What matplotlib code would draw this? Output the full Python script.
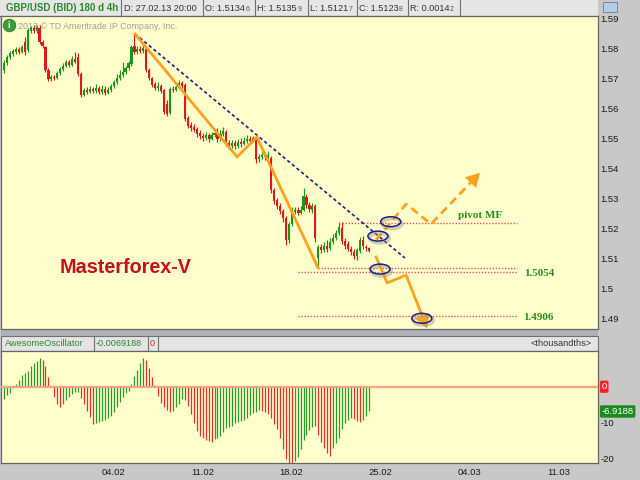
import numpy as np
import matplotlib
matplotlib.use("Agg")
import matplotlib.pyplot as plt
from matplotlib.patches import Rectangle, Ellipse
from matplotlib.transforms import blended_transform_factory

plt.rcParams["font.family"] = ["Liberation Sans", "DejaVu Sans"]

# ---- GBP/USD 4h candles (bar index 0..123) ----
opens = [1.5728, 1.5751, 1.5771, 1.5781, 1.5788, 1.5798, 1.5788, 1.5821, 1.5794, 1.5858,
         1.5868, 1.5858, 1.5868, 1.5821, 1.5804, 1.5728, 1.5698, 1.5704, 1.5701, 1.5718,
         1.5731, 1.5741, 1.5754, 1.5744, 1.5764, 1.5771, 1.5714, 1.5644, 1.5661, 1.5654,
         1.5664, 1.5658, 1.5668, 1.5654, 1.5664, 1.5651, 1.5661, 1.5674, 1.5688, 1.5701,
         1.5711, 1.5721, 1.5734, 1.5748, 1.5808, 1.5788, 1.5798, 1.5791, 1.5798, 1.5728,
         1.5701, 1.5681, 1.5668, 1.5674, 1.5661, 1.5614, 1.5584, 1.5664, 1.5661, 1.5671,
         1.5684, 1.5678, 1.5568, 1.5544, 1.5538, 1.5531, 1.5518, 1.5508, 1.5501, 1.5511,
         1.5498, 1.5511, 1.5518, 1.5501, 1.5514, 1.5521, 1.5484, 1.5474, 1.5484, 1.5474,
         1.5488, 1.5481, 1.5491, 1.5498, 1.5491, 1.5498, 1.5431, 1.5438, 1.5444, 1.5438,
         1.5434, 1.5328, 1.5294, 1.5274, 1.5258, 1.5234, 1.5161, 1.5214, 1.5254, 1.5261,
         1.5251, 1.5261, 1.5304, 1.5278, 1.5261, 1.5274, 1.5101, 1.5138, 1.5128, 1.5141,
         1.5134, 1.5154, 1.5168, 1.5184, 1.5201, 1.5158, 1.5148, 1.5131, 1.5121, 1.5108,
         1.5124, 1.5161, 1.5138, 1.5135]
highs = [1.5761, 1.5778, 1.5791, 1.5798, 1.5804, 1.5804, 1.5811, 1.5838, 1.5868, 1.5874,
         1.5878, 1.5878, 1.5878, 1.5828, 1.5808, 1.5734, 1.5711, 1.5711, 1.5724, 1.5738,
         1.5751, 1.5761, 1.5761, 1.5774, 1.5788, 1.5784, 1.5721, 1.5668, 1.5671, 1.5674,
         1.5671, 1.5681, 1.5674, 1.5678, 1.5674, 1.5671, 1.5681, 1.5694, 1.5714, 1.5728,
         1.5754, 1.5741, 1.5758, 1.5811, 1.5848, 1.5808, 1.5808, 1.5811, 1.5804, 1.5734,
         1.5704, 1.5688, 1.5688, 1.5681, 1.5664, 1.5628, 1.5671, 1.5674, 1.5681, 1.5694,
         1.5691, 1.5684, 1.5574, 1.5554, 1.5548, 1.5538, 1.5528, 1.5518, 1.5521, 1.5518,
         1.5521, 1.5531, 1.5534, 1.5528, 1.5538, 1.5528, 1.5494, 1.5494, 1.5494, 1.5498,
         1.5501, 1.5504, 1.5511, 1.5508, 1.5508, 1.5508, 1.5448, 1.5454, 1.5454, 1.5458,
         1.5441, 1.5334, 1.5301, 1.5284, 1.5264, 1.5241, 1.5221, 1.5271, 1.5271, 1.5271,
         1.5274, 1.5334, 1.5314, 1.5288, 1.5284, 1.5281, 1.5144, 1.5148, 1.5154, 1.5161,
         1.5168, 1.5181, 1.5194, 1.5221, 1.5221, 1.5168, 1.5158, 1.5141, 1.5131, 1.5134,
         1.5171, 1.5174, 1.5144, 1.5136]
lows = [1.5718, 1.5744, 1.5764, 1.5774, 1.5781, 1.5781, 1.5784, 1.5778, 1.5788, 1.5851,
        1.5851, 1.5851, 1.5814, 1.5801, 1.5721, 1.5691, 1.5691, 1.5694, 1.5698, 1.5711,
        1.5724, 1.5738, 1.5738, 1.5741, 1.5751, 1.5708, 1.5638, 1.5641, 1.5648, 1.5651,
        1.5651, 1.5651, 1.5648, 1.5648, 1.5644, 1.5648, 1.5654, 1.5668, 1.5681, 1.5694,
        1.5704, 1.5714, 1.5728, 1.5741, 1.5781, 1.5781, 1.5784, 1.5784, 1.5721, 1.5694,
        1.5671, 1.5661, 1.5658, 1.5651, 1.5581, 1.5574, 1.5581, 1.5654, 1.5658, 1.5668,
        1.5668, 1.5558, 1.5534, 1.5524, 1.5521, 1.5504, 1.5498, 1.5491, 1.5494, 1.5488,
        1.5494, 1.5504, 1.5488, 1.5491, 1.5508, 1.5474, 1.5464, 1.5468, 1.5464, 1.5468,
        1.5471, 1.5478, 1.5484, 1.5481, 1.5488, 1.5418, 1.5421, 1.5431, 1.5428, 1.5431,
        1.5318, 1.5281, 1.5264, 1.5248, 1.5221, 1.5144, 1.5151, 1.5208, 1.5248, 1.5244,
        1.5248, 1.5258, 1.5268, 1.5254, 1.5251, 1.5154, 1.5071, 1.5118, 1.5121, 1.5121,
        1.5128, 1.5148, 1.5161, 1.5178, 1.5148, 1.5131, 1.5124, 1.5111, 1.5098, 1.5094,
        1.5118, 1.5131, 1.5124, 1.5122]
closes = [1.5751, 1.5771, 1.5784, 1.5791, 1.5798, 1.5788, 1.5804, 1.5788, 1.5861, 1.5868,
          1.5858, 1.5871, 1.5821, 1.5808, 1.5728, 1.5698, 1.5704, 1.5701, 1.5718, 1.5731,
          1.5741, 1.5754, 1.5744, 1.5764, 1.5754, 1.5714, 1.5644, 1.5661, 1.5654, 1.5664,
          1.5658, 1.5668, 1.5654, 1.5664, 1.5651, 1.5661, 1.5674, 1.5688, 1.5701, 1.5711,
          1.5721, 1.5734, 1.5751, 1.5804, 1.5788, 1.5798, 1.5791, 1.5801, 1.5728, 1.5701,
          1.5678, 1.5668, 1.5674, 1.5658, 1.5588, 1.5581, 1.5664, 1.5661, 1.5671, 1.5684,
          1.5674, 1.5564, 1.5541, 1.5534, 1.5528, 1.5514, 1.5508, 1.5501, 1.5511, 1.5498,
          1.5511, 1.5518, 1.5498, 1.5514, 1.5524, 1.5484, 1.5474, 1.5484, 1.5474, 1.5488,
          1.5481, 1.5491, 1.5498, 1.5491, 1.5501, 1.5431, 1.5438, 1.5444, 1.5438, 1.5444,
          1.5328, 1.5291, 1.5274, 1.5258, 1.5234, 1.5161, 1.5214, 1.5254, 1.5261, 1.5251,
          1.5261, 1.5308, 1.5278, 1.5264, 1.5274, 1.5168, 1.5138, 1.5128, 1.5141, 1.5131,
          1.5154, 1.5168, 1.5184, 1.5204, 1.5158, 1.5141, 1.5131, 1.5121, 1.5108, 1.5128,
          1.5161, 1.5141, 1.5134, 1.5124]

# ---- Awesome Oscillator, thousandths ----
ao = [-3.3, -2.3, -1.7, -0.5, 0.8, 2.0, 3.3, 3.9, 4.5, 5.8,
      6.5, 7.2, 7.9, 7.4, 5.8, 2.8, -0.2, -2.8, -4.8, -5.6,
      -4.8, -3.7, -2.8, -2.0, -1.5, -1.4, -3.1, -4.8, -6.7, -8.6,
      -10.3, -10.2, -9.8, -9.5, -9.3, -8.8, -8.2, -7.0, -5.6, -4.4,
      -3.0, -1.7, -1.1, 0.7, 3.1, 4.8, 6.5, 7.9, 7.4, 5.1,
      2.8, 0.5, -2.5, -4.5, -5.6, -6.5, -7.0, -6.7, -5.8, -4.7,
      -3.5, -3.7, -5.4, -7.6, -10.1, -12.4, -13.8, -14.4, -14.9, -15.2,
      -15.4, -14.5, -14.2, -13.8, -12.6, -11.6, -11.2, -10.9, -10.2, -9.9,
      -9.6, -9.2, -8.7, -8.0, -7.4, -7.0, -6.5, -6.8, -7.1, -7.6,
      -8.8, -10.4, -11.9, -14.4, -17.4, -20.1, -21.2, -21.4, -20.7, -19.6,
      -17.4, -14.9, -13.5, -12.1, -11.2, -11.1, -13.5, -15.4, -17.0, -18.6,
      -19.4, -17.2, -15.6, -14.4, -11.9, -10.1, -9.3, -8.8, -9.1, -9.5,
      -9.8, -9.3, -8.2, -6.9188]

date_ticks = [37, 67, 97, 127, 157, 187]
date_labels = ["04.02", "11.02", "18.02", "25.02", "04.03", "11.03"]
price_ticks = [1.49, 1.50, 1.51, 1.52, 1.53, 1.54, 1.55, 1.56, 1.57, 1.58, 1.59]

# ---- analysis drawn on the chart (bar index, price) ----
wave_bar = [44.2, 78.6, 85.3, 105.9]
wave_price = [1.5848, 1.5438, 1.5504, 1.5068]
trend_bar = [44.2, 135.2]
trend_price = [1.5848, 1.5101]
bull_bar = [125.5, 135.6, 144.0, 160.5]
bull_price = [1.5161, 1.5281, 1.5214, 1.5385]
bear_bar = [125.5, 129.2, 135.6, 142.7]
bear_price = [1.5104, 1.5018, 1.5044, 1.4866]
level_price = [1.5218, 1.5069, 1.5054, 1.4906]
level_from = [114, 106, 99, 99]
level_to = 173
circled_bar = [130.4, 126.1, 126.8, 140.9]
circled_price = [1.5222, 1.5174, 1.5064, 1.4900]

# ---- colours ----
BG = "#ffffcc"
CHROME = "#c8c8c8"
HEAD = "#e6e6e6"
EDGE = "#666666"
C_UP = "#1a961a"
C_DN = "#dc1818"
AO_UP = "#2a9a2a"
AO_DN = "#e43030"
ORANGE = "#ffa01e"
NAVY = "#1c1c8c"
LEVEL = "#e05656"
LABEL_GREEN = "#2e8b1e"

W, H = 640, 480


def box(x0, y0, x1, y1):
    return [x0 / W, 1 - y1 / H, (x1 - x0) / W, (y1 - y0) / H]


fig = plt.figure(figsize=(6.4, 4.8), dpi=100)
fig.patch.set_facecolor(CHROME)

chrome = fig.add_axes([0, 0, 1, 1], zorder=0)
chrome.set_xlim(0, W)
chrome.set_ylim(H, 0)
chrome.axis("off")

ax = fig.add_axes(box(1, 16, 598, 329), zorder=2)
ax_ao = fig.add_axes(box(1, 351, 598, 463), zorder=2, sharex=ax)

x = np.arange(len(closes))
o = np.array(opens)
c = np.array(closes)
hi = np.array(highs)
lo = np.array(lows)

# ---------- price panel ----------
ax.set_facecolor(BG)
ax.set_xlim(-1.0, 200.3)
ax.set_ylim(1.48643, 1.59077)
cols = np.where(c >= o, C_UP, C_DN)
ax.vlines(x, lo, hi, colors=cols, lw=0.85, zorder=3)
body_lo = np.minimum(o, c)
body_h = np.maximum(np.abs(c - o), 0.00014)
ax.bar(x, body_h, bottom=body_lo, width=0.72, color=cols, linewidth=0, zorder=3)

ax.yaxis.tick_right()
ax.set_yticks(price_ticks)
ax.set_yticklabels([f"{v:.2f}".rstrip("0") for v in price_ticks])
ax.tick_params(axis="y", length=0, pad=2, labelsize=6.8, labelcolor="#1a1a1a")
ax.tick_params(axis="x", length=0, labelbottom=False)
for s in ax.spines.values():
    s.set_color(EDGE)
    s.set_linewidth(0.9)

# horizontal levels
for lvl, start in zip(level_price, level_from):
    ax.plot([start, level_to], [lvl, lvl], color=LEVEL, lw=1.0,
            linestyle=(0, (1.0, 1.2)), zorder=4)

# trend line
ax.plot(trend_bar, trend_price, color=NAVY, lw=1.2, linestyle=(0, (2.0, 1.6)), zorder=5)

# completed wave
ax.plot(wave_bar, wave_price, color=ORANGE, lw=2.0, solid_joinstyle="miter", zorder=6)


def arrow_path(bars, prices, style):
    bx = list(bars)
    py = list(prices)
    # stop the shaft short of the tip so the head stays pointed
    f = 0.82
    bx_end = bx[-2] + f * (bx[-1] - bx[-2])
    py_end = py[-2] + f * (py[-1] - py[-2])
    ax.plot(bx[:-1] + [bx_end], py[:-1] + [py_end], color=ORANGE, lw=2.0,
            linestyle=style, zorder=6, clip_on=True)
    g = 0.6
    ax.annotate("", xy=(bx[-1], py[-1]),
                xytext=(bx[-2] + g * (bx[-1] - bx[-2]), py[-2] + g * (py[-1] - py[-2])),
                arrowprops=dict(arrowstyle="-|>,head_length=0.7,head_width=0.4",
                                mutation_scale=14, color=ORANGE, lw=0, shrinkA=0, shrinkB=0),
                zorder=6, annotation_clip=False)


arrow_path(bull_bar, bull_price, (0, (3.0, 1.8)))
arrow_path(bear_bar, bear_price, "-")

# circled key points
for bx_, py_ in zip(circled_bar, circled_price):
    ax.add_patch(Ellipse((bx_ + 0.5, py_ - 0.0007), 6.75, 0.0033, fill=False,
                         edgecolor="#9a9a88", lw=2.4, alpha=0.45, zorder=7))
    ax.add_patch(Ellipse((bx_, py_), 6.75, 0.0033, fill=False,
                         edgecolor=NAVY, lw=1.1, zorder=8))

# level labels
ax.text(153.1, 1.5244, "pivot MF", family="Liberation Serif", weight="bold",
        color=LABEL_GREEN, fontsize=8, va="center", ha="left", zorder=9)
ax.text(175.4, 1.5048, f"{level_price[2]:.4f}", family="Liberation Serif", weight="bold",
        color=LABEL_GREEN, fontsize=8, va="center", ha="left", zorder=9)
ax.text(175.0, 1.4901, f"{level_price[3]:.4f}", family="Liberation Serif", weight="bold",
        color=LABEL_GREEN, fontsize=8, va="center", ha="left", zorder=9)

ax.text(0.0988, 0.195, "Masterforex-V", transform=ax.transAxes, color="#c4121c",
        fontsize=14.2, fontweight="bold", va="center", ha="left", zorder=9)

ax.plot(0.0126, 0.971, "o", transform=ax.transAxes, ms=9, mfc="#3c9c3c", mec="#2a7a2a",
        mew=0.6, zorder=9, clip_on=False)
ax.text(0.0126, 0.970, "i", transform=ax.transAxes, color="white", fontsize=6.5,
        fontweight="bold", ha="center", va="center", zorder=10)
ax.text(0.0285, 0.968, "2013 © TD Ameritrade IP Company, Inc.", transform=ax.transAxes,
        color="#a0a0a0", fontsize=6.4, va="center", ha="left", zorder=2)

# ---------- oscillator panel ----------
ax_ao.set_facecolor(BG)
ax_ao.set_ylim(-21.31, 9.97)
a = np.array(ao)
prev = np.concatenate([[a[0] - 1.0], a[:-1]])
ao_cols = np.where(a >= prev, AO_UP, AO_DN)
ax_ao.vlines(x, 0, a, colors=ao_cols, lw=0.9, zorder=3)
ax_ao.axhline(0, color="#f6a283", lw=1.6, zorder=4)

ax_ao.yaxis.tick_right()
ax_ao.set_yticks([-10, -20])
ax_ao.set_yticklabels(["-10", "-20"])
ax_ao.tick_params(axis="y", length=0, pad=2, labelsize=6.8, labelcolor="#1a1a1a")
ax_ao.set_xticks(date_ticks)
ax_ao.set_xticklabels(date_labels)
ax_ao.tick_params(axis="x", length=0, pad=3.5, labelsize=6.8, labelcolor="#1a1a1a")
for s in ax_ao.spines.values():
    s.set_color(EDGE)
    s.set_linewidth(0.9)

bt = blended_transform_factory(ax_ao.transAxes, ax_ao.transData)
ax_ao.text(1.006, 0, "0", transform=bt, color="white", fontsize=6.8, va="center", ha="left",
           clip_on=False, bbox=dict(boxstyle="round,pad=0.18", fc="#ff2424", ec="none"))
ax_ao.text(1.006, a[-1], f"{a[-1]:.4f}", transform=bt, color="white", fontsize=6.8,
           va="center", ha="left", clip_on=False,
           bbox=dict(boxstyle="round,pad=0.18", fc="#1a8a1a", ec="none"))

# ---------- window chrome ----------
chrome.add_patch(Rectangle((0, 0), 598, 16, facecolor=HEAD, edgecolor="none"))
chrome.plot([0, 598], [15.8, 15.8], color=EDGE, lw=0.8)
for xs in [120.5, 202.5, 254.5, 307.5, 356.5, 407.5, 459.5]:
    chrome.plot([xs, xs], [0, 16], color="#707070", lw=0.8)
chrome.add_patch(Rectangle((603, 2), 14, 10, facecolor="#b8cce0", edgecolor="#6080a0", lw=0.6))

chrome.text(6, 8.3, "GBP/USD (BID) 180 d 4h", color="#2a8a2a", fontweight="bold",
            fontsize=7.0, va="center", ha="left")

header_fields = [(124, "D: 27.02.13 20:00", ""), (205, "O: 1.5134", "6"),
                 (257, "H: 1.5135", "9"), (310, "L: 1.5121", "7"),
                 (359, "C: 1.5123", "8"), (410, "R: 0.0014", "2")]
renderer = fig.canvas.get_renderer()
inv = chrome.transData.inverted()
for hx, main, tail in header_fields:
    t = chrome.text(hx, 8.3, main, color="#333333", fontsize=6.6, va="center", ha="left")
    if tail:
        bb = t.get_window_extent(renderer)
        ex, _ = inv.transform((bb.x1, bb.y0))
        chrome.text(ex + 0.5, 9.6, tail, color="#555555", fontsize=5.0, va="center", ha="left")

# splitter and oscillator header row
chrome.add_patch(Rectangle((1, 329.5), 597, 6, facecolor="#aeb2ba", edgecolor="none"))
chrome.add_patch(Rectangle((1, 336), 597, 15, facecolor="#e4e4e4", edgecolor="#707070", lw=0.8))
for xs in [93.5, 147.5, 157.5]:
    chrome.plot([xs, xs], [336, 351], color="#707070", lw=0.8)
chrome.text(5, 343.6, "AwesomeOscillator", color="#2a8a2a", fontsize=6.6, va="center", ha="left")
chrome.text(96, 343.6, f"{a[-1] / 1000:.7f}", color="#2a8a2a", fontsize=6.6, va="center", ha="left")
chrome.text(150, 343.6, "0", color="#e02020", fontsize=6.6, va="center", ha="left")
chrome.text(592, 343.6, "<thousandths>", color="#333333", fontsize=6.6, va="center", ha="right")

fig.savefig("out.png", dpi=100, facecolor=fig.get_facecolor())
